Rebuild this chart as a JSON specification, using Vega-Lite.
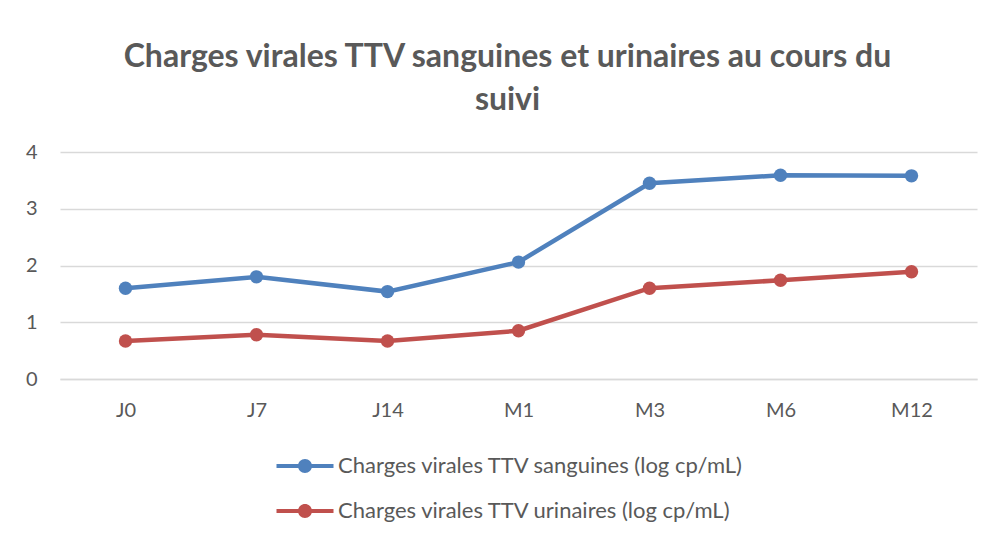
{
  "$schema": "https://vega.github.io/schema/vega-lite/v6.json",
  "width": 917,
  "height": 227,
  "autosize": {"type": "none"},
  "padding": {"left": 60, "top": 152, "right": 18, "bottom": 156},
  "background": "white",
  "title": {
    "text": ["Charges virales TTV sanguines et urinaires au cours du", "suivi"],
    "font": "Lato",
    "fontSize": 32,
    "fontWeight": "bold",
    "color": "#595959",
    "lineHeight": 43,
    "anchor": "middle",
    "dx": -11,
    "offset": 25
  },
  "config": {
    "view": {"stroke": null},
    "font": "Lato"
  },
  "data": {
    "values": [
      {"temps": "J0", "serie": "Charges virales TTV sanguines (log cp/mL)", "valeur": 1.60},
      {"temps": "J7", "serie": "Charges virales TTV sanguines (log cp/mL)", "valeur": 1.80},
      {"temps": "J14", "serie": "Charges virales TTV sanguines (log cp/mL)", "valeur": 1.54},
      {"temps": "M1", "serie": "Charges virales TTV sanguines (log cp/mL)", "valeur": 2.06},
      {"temps": "M3", "serie": "Charges virales TTV sanguines (log cp/mL)", "valeur": 3.45},
      {"temps": "M6", "serie": "Charges virales TTV sanguines (log cp/mL)", "valeur": 3.59},
      {"temps": "M12", "serie": "Charges virales TTV sanguines (log cp/mL)", "valeur": 3.58},
      {"temps": "J0", "serie": "Charges virales TTV urinaires (log cp/mL)", "valeur": 0.67},
      {"temps": "J7", "serie": "Charges virales TTV urinaires (log cp/mL)", "valeur": 0.78},
      {"temps": "J14", "serie": "Charges virales TTV urinaires (log cp/mL)", "valeur": 0.67},
      {"temps": "M1", "serie": "Charges virales TTV urinaires (log cp/mL)", "valeur": 0.85},
      {"temps": "M3", "serie": "Charges virales TTV urinaires (log cp/mL)", "valeur": 1.60},
      {"temps": "M6", "serie": "Charges virales TTV urinaires (log cp/mL)", "valeur": 1.74},
      {"temps": "M12", "serie": "Charges virales TTV urinaires (log cp/mL)", "valeur": 1.89}
    ]
  },
  "mark": {"type": "line", "strokeWidth": 4.5, "point": {"filled": true, "size": 180, "opacity": 1}},
  "encoding": {
    "x": {
      "field": "temps",
      "type": "nominal",
      "sort": ["J0", "J7", "J14", "M1", "M3", "M6", "M12"],
      "scale": {"type": "point", "padding": 0.5},
      "axis": {
        "title": null,
        "labelAngle": 0,
        "labelFont": "Lato",
        "labelFontSize": 20,
        "labelColor": "#595959",
        "labelPadding": 21,
        "ticks": false,
        "domainColor": "#D9D9D9",
        "domainWidth": 1.5
      }
    },
    "y": {
      "field": "valeur",
      "type": "quantitative",
      "scale": {"domain": [0, 4]},
      "axis": {
        "title": null,
        "values": [0, 1, 2, 3, 4],
        "labelFont": "Lato",
        "labelFontSize": 20,
        "labelColor": "#595959",
        "labelPadding": 23,
        "ticks": false,
        "domain": false,
        "gridColor": "#D9D9D9",
        "gridWidth": 1.5
      }
    },
    "color": {
      "field": "serie",
      "type": "nominal",
      "scale": {
        "domain": ["Charges virales TTV sanguines (log cp/mL)", "Charges virales TTV urinaires (log cp/mL)"],
        "range": ["#4F81BD", "#C0504D"]
      },
      "legend": {
        "title": null,
        "orient": "none",
        "legendX": 234,
        "legendY": 303,
        "direction": "vertical",
        "labelFont": "Lato",
        "labelFontSize": 22,
        "labelColor": "#595959",
        "labelLimit": 600,
        "labelOffset": 22,
        "rowPadding": 23,
        "symbolSize": 400,
        "symbolType": "M-2.85,-0.2L-0.6,-0.2L-0.6,0.2L-2.85,0.2Z M0.6,-0.2L2.85,-0.2L2.85,0.2L0.6,0.2Z M-0.7,0A0.7,0.7 0 1,1 0.7,0A0.7,0.7 0 1,1 -0.7,0Z",
        "symbolStrokeWidth": 0,
        "encode": {
          "symbols": {"update": {"fill": {"scale": "color", "field": "value"}, "fillOpacity": {"value": 1}, "strokeWidth": {"value": 0}}}
        }
      }
    }
  }
}
